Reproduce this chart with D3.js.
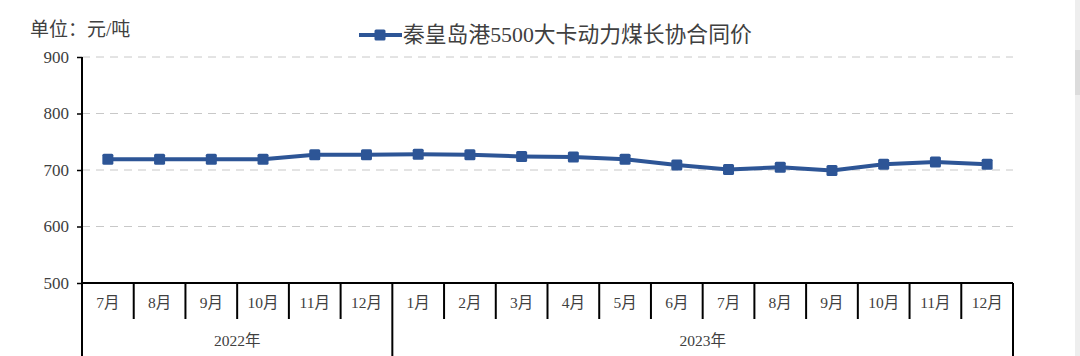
<!DOCTYPE html>
<html><head><meta charset="utf-8">
<script src="https://cdn.jsdelivr.net/npm/d3@7"></script>
<style>body{margin:0;background:#fff;overflow:hidden}svg{display:block}</style>
</head><body>
<script>
const months = ["7月","8月","9月","10月","11月","12月","1月","2月","3月","4月","5月","6月","7月","8月","9月","10月","11月","12月"];
const years = ["2022年","2023年"];
const yearSpan = [6, 12];
const prices = [719,719,719,719,727,727,728,727,724,723,719,709,701,705,699,710,714,710];
const yTicks = [500,600,700,800,900];
const seriesName = "秦皇岛港5500大卡动力煤长协合同价";
const unitLabel = "单位：元/吨";

(function () {
const W = 1080, H = 356;
const pl = 82, pr = 1013, pt = 57, pb = 283;
const font = "'Liberation Serif','Times New Roman','Noto Sans CJK SC',serif";
const txt = "#404040", blue = "#2D5596";

const svg = d3.select("body").append("svg").attr("width", W).attr("height", H);

const x = d3.scaleBand().domain(d3.range(months.length)).range([pl, pr]).padding(0);
const y = d3.scaleLinear().domain([500, 900]).range([pb, pt]);

// gridlines
svg.append("g").selectAll("line").data(yTicks.filter(d => d > 500)).join("line")
  .attr("x1", pl).attr("x2", pr).attr("y1", d => y(d)).attr("y2", d => y(d))
  .attr("stroke", "#c8c8c8").attr("stroke-width", 1).attr("stroke-dasharray", "8,6");

// y axis
const yAxis = d3.axisLeft(y).tickValues(yTicks).tickSize(5).tickPadding(8);
const gy = svg.append("g").attr("transform", `translate(${pl},0)`).call(yAxis);
gy.select(".domain").remove();
gy.selectAll("line").attr("stroke", "#000").attr("stroke-width", 1.5);
gy.selectAll("text").attr("font-family", font).attr("font-size", 17).attr("fill", txt);
svg.append("line").attr("x1", pl).attr("x2", pl).attr("y1", pt).attr("y2", H)
  .attr("stroke", "#000").attr("stroke-width", 2);

// baseline
svg.append("line").attr("x1", pl).attr("x2", pr).attr("y1", pb).attr("y2", pb)
  .attr("stroke", "#000").attr("stroke-width", 2);

// month table
const bounds = d3.range(1, months.length + 1);
let cum = 0; const yearEnds = yearSpan.map(n => (cum += n));
svg.append("g").selectAll("line").data(bounds).join("line")
  .attr("x1", i => x(i - 1) + x.bandwidth()).attr("x2", i => x(i - 1) + x.bandwidth())
  .attr("y1", pb).attr("y2", i => yearEnds.includes(i) ? H : 319)
  .attr("stroke", "#000").attr("stroke-width", 2);
svg.append("g").selectAll("text").data(months).join("text")
  .attr("x", (d, i) => x(i) + x.bandwidth() / 2).attr("y", 308)
  .attr("text-anchor", "middle").attr("font-family", font).attr("font-size", 15.5).attr("fill", txt)
  .text(d => d);
let start = 0;
years.forEach((yr, k) => {
  const s = start, e = start + yearSpan[k] - 1; start += yearSpan[k];
  svg.append("text").attr("x", (x(s) + x(e) + x.bandwidth()) / 2).attr("y", 346)
    .attr("text-anchor", "middle").attr("font-family", font).attr("font-size", 15.5).attr("fill", txt)
    .text(yr);
});

// line
const line = d3.line().x((d, i) => x(i) + x.bandwidth() / 2).y(d => y(d));
svg.append("path").datum(prices).attr("d", line).attr("fill", "none")
  .attr("stroke", blue).attr("stroke-width", 4).attr("stroke-linejoin", "round");
svg.append("g").selectAll("rect").data(prices).join("rect")
  .attr("x", (d, i) => x(i) + x.bandwidth() / 2 - 5.5).attr("y", d => y(d) - 5.5)
  .attr("width", 11).attr("height", 11).attr("rx", 1.5).attr("fill", blue);

// unit label
svg.append("text").attr("x", 30).attr("y", 36).attr("font-family", font).attr("font-size", 19)
  .attr("fill", txt).text(unitLabel);

// legend
svg.append("line").attr("x1", 359).attr("x2", 402).attr("y1", 35).attr("y2", 35)
  .attr("stroke", blue).attr("stroke-width", 4);
svg.append("rect").attr("x", 374.5).attr("y", 29.5).attr("width", 11).attr("height", 11).attr("rx", 1.5).attr("fill", blue);
svg.append("text").attr("x", 403).attr("y", 42).attr("font-family", font).attr("font-size", 21.8)
  .attr("fill", txt).text(seriesName);

// right scrollbar strip
svg.append("rect").attr("x", 1075).attr("y", 0).attr("width", 5).attr("height", H).attr("fill", "#eeeeee");
svg.append("rect").attr("x", 1075).attr("y", 50).attr("width", 5).attr("height", 45).attr("fill", "#dcdcdc");
})();
</script>
</body></html>
